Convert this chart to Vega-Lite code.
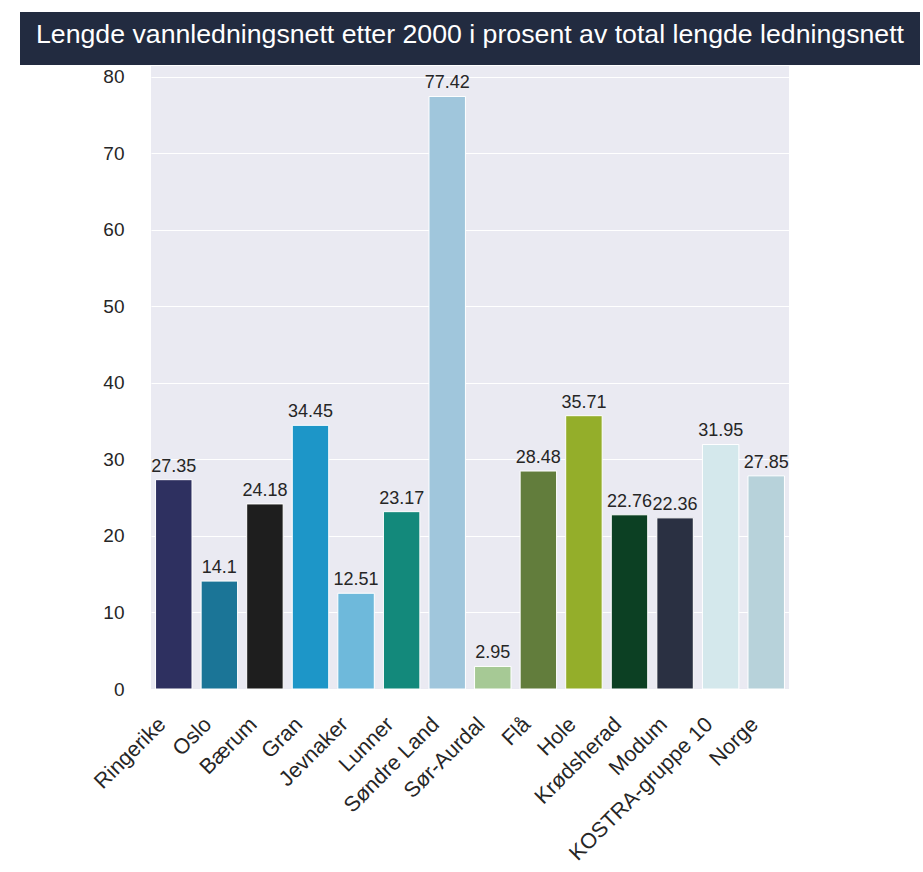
{
  "$schema": "https://vega.github.io/schema/vega-lite/v6.json",
  "padding": {"left": 20, "top": 12, "right": 3, "bottom": 0},
  "background": "white",
  "config": {"font": "Liberation Sans", "view": {"stroke": null}},
  "bounds": "flush",
  "center": true,
  "spacing": 1,
  "vconcat": [
    {
      "width": 900,
      "height": 53,
      "view": {"fill": "#222b40", "stroke": null},
      "data": {"values": [{"title": "Lengde vannledningsnett etter 2000 i prosent av total lengde ledningsnett"}]},
      "mark": {"type": "text", "color": "white", "fontSize": 26.7, "font": "Liberation Sans", "dy": -4},
      "encoding": {"text": {"field": "title", "type": "nominal"}}
    },
    {
      "width": 638,
      "height": 623,
      "view": {"fill": "#eaeaf2", "stroke": null},
      "data": {"values": [
        {"name": "Ringerike", "value": 27.35, "color": "#2e3060"},
        {"name": "Oslo", "value": 14.1, "color": "#1b7597"},
        {"name": "Bærum", "value": 24.18, "color": "#1e1e1e"},
        {"name": "Gran", "value": 34.45, "color": "#1d96c8"},
        {"name": "Jevnaker", "value": 12.51, "color": "#6eb9db"},
        {"name": "Lunner", "value": 23.17, "color": "#13897b"},
        {"name": "Søndre Land", "value": 77.42, "color": "#a0c6dc"},
        {"name": "Sør-Aurdal", "value": 2.95, "color": "#a6c995"},
        {"name": "Flå", "value": 28.48, "color": "#627d3c"},
        {"name": "Hole", "value": 35.71, "color": "#94ae2a"},
        {"name": "Krødsherad", "value": 22.76, "color": "#0c4023"},
        {"name": "Modum", "value": 22.36, "color": "#2a3042"},
        {"name": "KOSTRA-gruppe 10", "value": 31.95, "color": "#d4e8ec"},
        {"name": "Norge", "value": 27.85, "color": "#b7d2da"}
      ]},
      "encoding": {
        "x": {
          "field": "name", "type": "nominal", "sort": null,
          "scale": {"paddingInner": 0.2, "paddingOuter": 0.1},
          "axis": {"title": null, "labelAngle": -45, "labelAlign": "right", "labelBaseline": "middle", "domain": false, "ticks": false, "tickSize": 0, "labelPadding": 32, "labelOffset": -11, "labelFontSize": 21.5, "labelLimit": 400, "labelColor": "#262626", "grid": false}
        },
        "y": {
          "field": "value", "type": "quantitative",
          "scale": {"domain": [0, 81.4], "nice": false},
          "axis": {"title": null, "values": [0, 10, 20, 30, 40, 50, 60, 70, 80], "domain": false, "ticks": false, "tickSize": 0, "labelPadding": 27, "labelFontSize": 19, "labelColor": "#262626", "gridColor": "white", "gridWidth": 1.2, "gridOpacity": 1}
        }
      },
      "layer": [
        {
          "mark": {"type": "bar", "stroke": "white", "strokeWidth": 1},
          "encoding": {"color": {"field": "color", "type": "nominal", "scale": null}}
        },
        {
          "mark": {"type": "text", "baseline": "bottom", "dy": -4, "fontSize": 18, "color": "#262626"},
          "encoding": {"text": {"field": "value", "type": "quantitative"}}
        }
      ]
    }
  ]
}
